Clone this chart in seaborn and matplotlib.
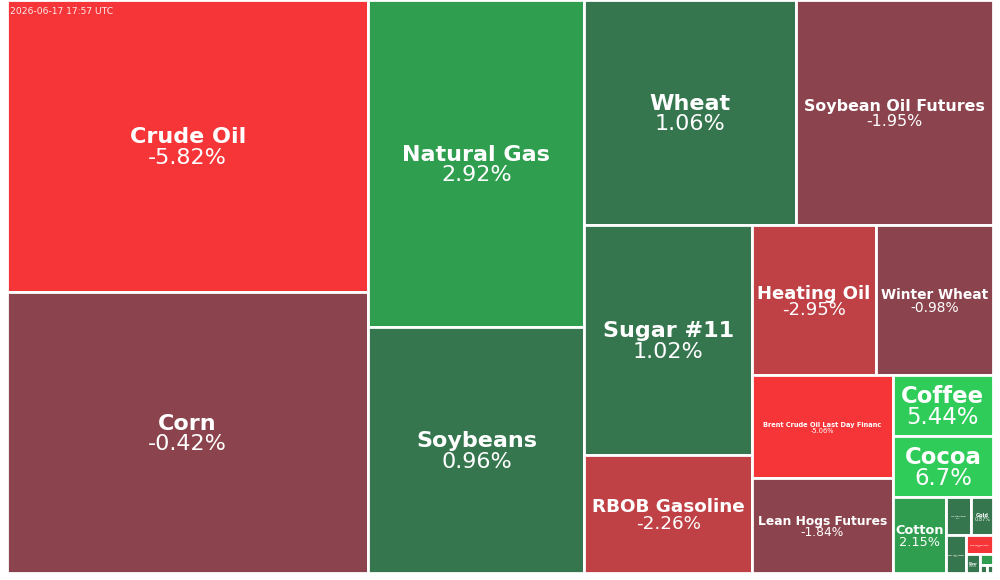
import matplotlib
matplotlib.use('Agg')
import matplotlib.pyplot as plt
from matplotlib.patches import Rectangle
import numpy as np
import seaborn as sns

names = ['Crude Oil', 'Corn', 'Natural Gas', 'Soybeans', 'Wheat', 'Soybean Oil Futures',
         'Sugar #11', 'RBOB Gasoline', 'Heating Oil', 'Winter Wheat',
         'Brent Crude Oil Last Day Financ', 'Lean Hogs Futures', 'Coffee', 'Cocoa', 'Cotton',
         'Live Cattle Futures', 'Gold', 'Feeder Cattle Futures', 'Micro Crude Oil Futures',
         'Silver', 'Copper', 'Oats', 'Rough Rice']
weights = [105400, 101400, 70600, 53100, 47700, 44300,
           38400, 19700, 18600, 17500,
           14500, 13300, 6100, 6050, 4030,
           990, 840, 760, 510,
           265, 140, 55, 50]
changes = [-5.82, -0.42, 2.92, 0.96, 1.06, -1.95,
           1.02, -2.26, -2.95, -0.98,
           -5.06, -1.84, 5.44, 6.7, 2.15,
           0.94, 0.87, 1.12, -3.4,
           0.65, 2.5, 0.3, 0.4]

# finviz style steps, one colour per change bin
bins = [-3, -2, 0, 2, 3]
palette = sns.color_palette(['#f63538', '#bf4045', '#8b444e', '#35764e', '#2f9e4f', '#30cc5a'])

W, H = 986, 573


def worst(row, short):
    total = sum(row)
    return max(short ** 2 * max(row) / total ** 2, total ** 2 / (short ** 2 * min(row)))


def squarify(sizes, x, y, w, h):
    """
    Standard squarified treemap layout, sizes must be sorted or close to it.
    """
    sizes = list(np.array(sizes, dtype=float) * w * h / np.sum(sizes))
    rects = []
    while sizes:
        short = min(w, h)
        row = [sizes[0]]
        n = 1
        while n < len(sizes):
            new = row + [sizes[n]]
            if worst(new, short) > worst(row, short):
                break
            row = new
            n += 1
        total = sum(row)
        if w >= h:
            col_w = total / h
            yy = y
            for s in row:
                rects.append((x, yy, col_w, s / col_w))
                yy += s / col_w
            x += col_w
            w -= col_w
        else:
            row_h = total / w
            xx = x
            for s in row:
                rects.append((xx, y, s / row_h, row_h))
                xx += s / row_h
            y += row_h
            h -= row_h
        sizes = sizes[n:]
    return rects


sns.set_theme(style='white')
plt.rcParams['font.family'] = ['DejaVu Sans']

fig = plt.figure(figsize=(10, 5.8), dpi=100)
ax = fig.add_axes([7 / 1000, 7 / 580, W / 1000, H / 580])
ax.set_xlim(0, W)
ax.set_ylim(H, 0)
ax.axis('off')
renderer = fig.canvas.get_renderer()

for name, change, (x, y, w, h) in zip(names, changes, squarify(weights, 0, 0, W, H)):
    color = palette[int(np.digitize(change, bins))]
    ax.add_patch(Rectangle((x, y), w, h, facecolor=color, edgecolor='white', linewidth=2, clip_on=False))
    if w < 12 or h < 12:
        continue
    cx, cy = x + w / 2, y + h / 2

    # fit the bold name to the tile width, big tiles stop at 16pt
    label = ax.annotate(name, (cx, cy), ha='center', va='center', color='white', fontsize=16, fontweight='bold',
                        textcoords='offset points', xytext=(0, 0))
    size = min(16, 16 * 0.92 * w / label.get_window_extent(renderer).width)
    if w * h < 1500:
        size *= 0.65
    if len(name) > 25:
        size *= 0.93
    if name in ('Coffee', 'Cocoa'):
        size = 16.4
    label.set_fontsize(size)
    label.xyann = (0, 0.46 * size - 1)
    ax.annotate(f'{change:g}%', (cx, cy), xytext=(0, -0.46 * size - 1), textcoords='offset points', ha='center',
                va='center', color='white', fontsize=size)

ax.text(3, 12, '2026-06-17 17:57 UTC', color='white', fontsize=6.6, va='center', ha='left', alpha=0.9)

fig.savefig('out.png', dpi=100, facecolor='white')
